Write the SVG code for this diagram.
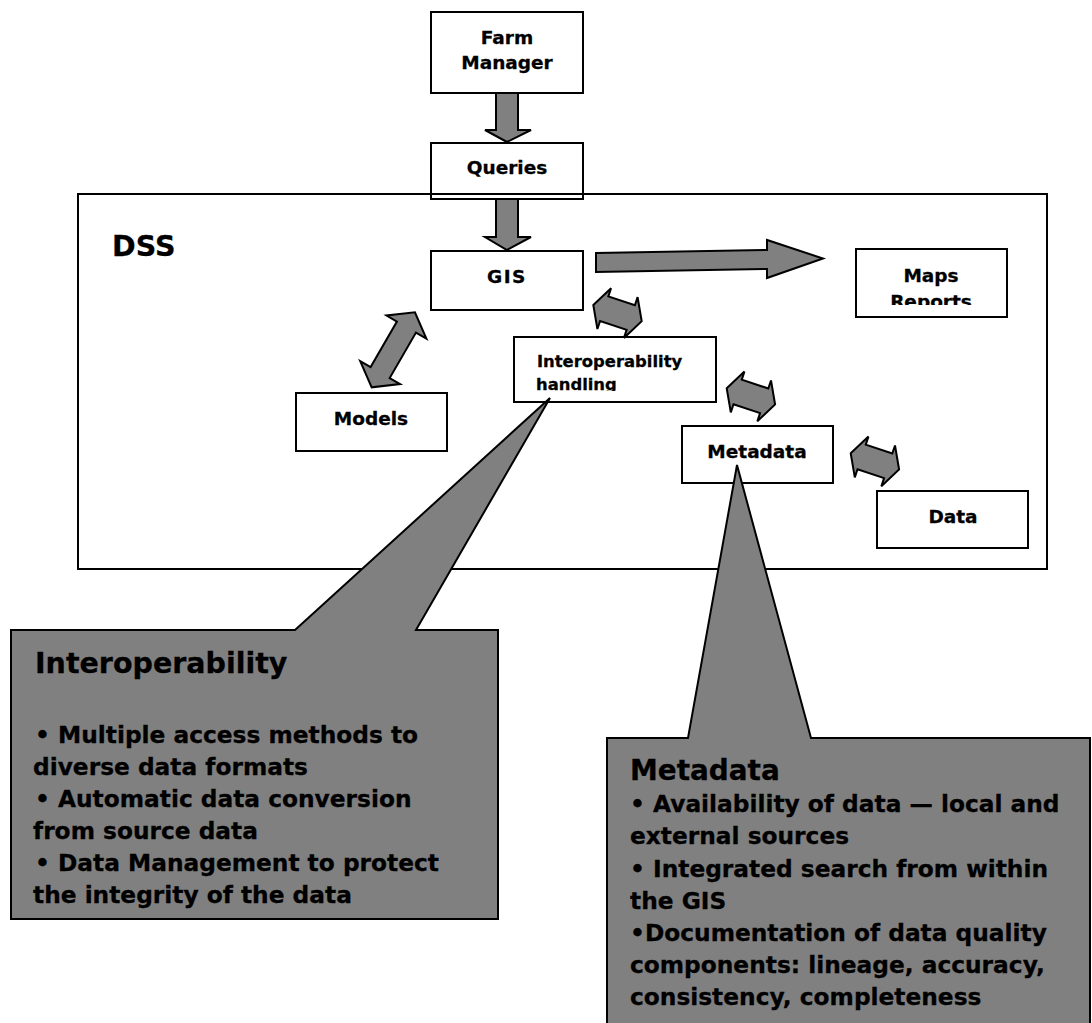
<svg xmlns="http://www.w3.org/2000/svg" width="1092" height="1023" viewBox="0 0 1092 1023">
<style>
.box{fill:#fff;stroke:#000;stroke-width:2}
.frame{fill:none;stroke:#000;stroke-width:2}
.arr{fill:#808080;stroke:#000;stroke-width:2;stroke-linejoin:miter}
.call{fill:#808080;stroke:#000;stroke-width:2;stroke-linejoin:miter}
text{font-family:"DejaVu Sans","Liberation Sans",sans-serif;font-weight:bold;fill:#000;stroke:#000;stroke-width:0.3}
.lbl{font-size:18.5px;text-anchor:middle}
.big{font-size:28.5px}
.body{font-size:23.3px}
</style>
<defs>
<clipPath id="clipMaps"><rect x="856" y="250" width="150" height="55"/></clipPath>
<clipPath id="clipInterop"><rect x="515" y="338" width="200" height="53"/></clipPath>
<polygon id="dblSmall" points="-25.5,0 -14,-21.5 -14,-13 14,-13 14,-21.5 25.5,0 14,21.5 14,13 -14,13 -14,21.5"/>
</defs>
<rect x="0" y="0" width="1092" height="1023" fill="#fff"/>

<g id="farm-manager">
<rect class="box" x="431" y="12" width="152" height="81"/>
<text class="lbl" x="507" y="44">Farm</text>
<text class="lbl" x="507" y="69">Manager</text>
</g>

<g id="queries">
<rect class="box" x="431" y="143" width="152" height="56"/>
<text class="lbl" x="507" y="174">Queries</text>
</g>

<g id="dss">
<rect class="frame" x="78" y="194" width="969" height="375"/>
<text class="big" x="112" y="256" font-size="29.5">DSS</text>
</g>

<g id="gis">
<rect class="box" x="431" y="251" width="152" height="59"/>
<text class="lbl" x="507" y="283" letter-spacing="1.5">GIS</text>
</g>

<g id="maps-reports">
<rect class="box" x="856" y="249" width="151" height="68"/>
<g clip-path="url(#clipMaps)">
<text class="lbl" x="931" y="282">Maps</text>
<text class="lbl" x="931" y="308">Reports</text>
</g>
</g>

<g id="interoperability-handling">
<rect class="box" x="514" y="337" width="202" height="65"/>
<g clip-path="url(#clipInterop)">
<text x="537" y="367" font-size="16.4">Interoperability</text>
<text x="536" y="390" font-size="16.4">handling</text>
</g>
</g>

<g id="models">
<rect class="box" x="296" y="393" width="151" height="58"/>
<text class="lbl" x="371" y="425">Models</text>
</g>

<g id="metadata">
<rect class="box" x="682" y="426" width="151" height="57"/>
<text class="lbl" x="757" y="458">Metadata</text>
</g>

<g id="data">
<rect class="box" x="877" y="491" width="151" height="57"/>
<text class="lbl" x="953" y="523">Data</text>
</g>

<g id="connectors">
<polygon class="arr" points="496,93 518,93 518,130 531,130 507,142 485,130 496,130"/>
<polygon class="arr" points="496,199 518,199 518,237 531,237 507,250 485,237 496,237"/>
<polygon class="arr" points="596,253 767,250 767,240 823,258.5 767,278 767,269 596,272"/>
<polygon class="arr" transform="translate(393.3,349.8) rotate(-60)" points="-43.3,0 -26.3,-23 -26.3,-11 26.3,-11 26.3,-23 43.3,0 26.3,23 26.3,11 -26.3,11 -26.3,23"/>
<use href="#dblSmall" class="arr" transform="translate(617.5,313.1) rotate(18.5)"/>
<use href="#dblSmall" class="arr" transform="translate(750.9,396.4) rotate(18.5)"/>
<use href="#dblSmall" class="arr" transform="translate(874.9,461.4) rotate(18.5)"/>
</g>

<g id="interoperability-callout">
<polygon class="call" points="11,630 295,630 550,398 416,630 498,630 498,919 11,919"/>
<text class="big" x="35" y="673">Interoperability</text>
<text class="body" x="35" y="743">• Multiple access methods to</text>
<text class="body" x="33" y="775">diverse data formats</text>
<text class="body" x="35" y="807">• Automatic data conversion</text>
<text class="body" x="33" y="839">from source data</text>
<text class="body" x="35" y="871">• Data Management to protect</text>
<text class="body" x="33" y="903">the integrity of the data</text>
</g>

<g id="metadata-callout">
<polygon class="call" points="607,738 688,738 737,465 811,738 1090,738 1090,1030 607,1030"/>
<text x="630" y="780" font-size="27.9">Metadata</text>
<text class="body" x="630" y="812">• Availability of data — local and</text>
<text class="body" x="630" y="844">external sources</text>
<text class="body" x="630" y="877">• Integrated search from within</text>
<text class="body" x="630" y="909">the GIS</text>
<text class="body" x="630" y="941">•Documentation of data quality</text>
<text class="body" x="630" y="973">components: lineage, accuracy,</text>
<text class="body" x="630" y="1005">consistency, completeness</text>
</g>
</svg>
